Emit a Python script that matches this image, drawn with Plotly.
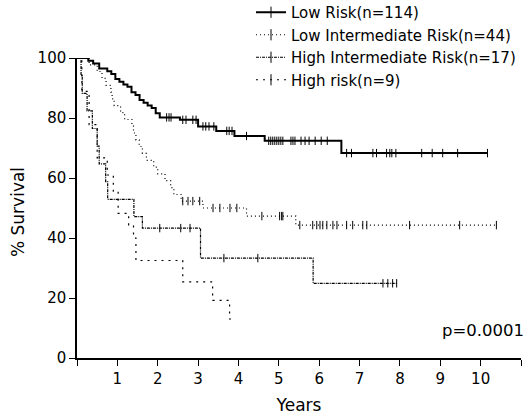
import numpy as np
import plotly.graph_objects as go

# ---- data ----
low_t = [0, 0.28, 0.4, 0.55, 0.75, 0.85, 0.95, 1.05, 1.15, 1.25, 1.35, 1.45, 1.55, 1.65, 1.75, 1.85, 1.95, 2.05, 2.55, 3.0, 3.45, 3.9, 4.65, 6.55]
low_s = [100, 99.1, 98.2, 96.5, 95.6, 94.7, 93.0, 92.1, 91.2, 90.4, 88.6, 87.7, 86.0, 85.1, 84.2, 83.3, 81.6, 80.2, 79.4, 77.2, 75.7, 74.0, 72.4, 68.3]
low_end = 10.17
low_cens = [2.22, 2.28, 2.33, 2.62, 2.7, 2.87, 2.95, 3.12, 3.19, 3.27, 3.39, 3.71, 3.77, 3.84, 4.2,
            4.75, 4.8, 4.85, 4.9, 4.95, 5.0, 5.05, 5.1, 5.3, 5.35, 5.4, 5.55, 5.65, 5.75, 5.9, 6.05, 6.2,
            6.68, 6.8, 7.33, 7.42, 7.67, 7.75, 7.8, 7.9, 8.54, 8.8, 9.06, 9.43, 10.17]

lowint_t = [0, 0.3, 0.5, 0.62, 0.72, 0.84, 0.87, 0.92, 1.08, 1.18, 1.36, 1.4, 1.46, 1.54, 1.62, 1.72, 1.9, 2.0, 2.18, 2.32, 2.4, 2.58, 3.12, 4.2, 5.42]
lowint_s = [100, 97.7, 95.5, 93.2, 90.9, 88.6, 86.4, 84.1, 81.8, 79.5, 77.3, 75.0, 72.7, 70.5, 68.2, 65.9, 63.6, 61.4, 59.1, 56.8, 54.5, 52.3, 50.0, 47.3, 44.3]
lowint_end = 10.39
lowint_cens = [2.62, 2.75, 2.87, 3.04, 3.37, 3.54, 3.79, 3.96, 4.58, 5.02, 5.07, 5.1, 5.52, 5.84, 5.94,
               6.02, 6.09, 6.19, 6.34, 6.44, 6.68, 6.83, 7.08, 7.18, 8.24, 9.48, 10.39]

highint_t = [0, 0.1, 0.13, 0.25, 0.38, 0.5, 0.55, 0.71, 0.76, 1.41, 1.62, 3.06, 5.85]
highint_s = [100, 94.1, 88.2, 82.4, 76.5, 70.6, 64.7, 58.8, 52.9, 47.1, 43.3, 33.3, 24.9]
highint_end = 7.92
highint_cens = [2.05, 2.57, 2.8, 3.64, 4.48, 7.58, 7.7, 7.82, 7.92]

high_t = [0, 0.12, 0.3, 0.5, 0.75, 0.9, 1.02, 1.28, 1.4, 1.46, 2.62, 3.36, 3.78]
high_s = [100, 88.9, 77.8, 66.7, 61.0, 55.6, 48.2, 44.4, 40.0, 32.5, 25.4, 19.2, 13.0]
high_end = 3.82
high_cens = []

names = ["Low Risk(n=114)", "Low Intermediate Risk(n=44)",
         "High Intermediate Risk(n=17)", "High risk(n=9)"]
x_ticks = list(range(0, 12))
x_ticktext = [""] + [str(i) for i in range(1, 11)] + [""]
y_ticks = [0, 20, 40, 60, 80, 100]

series = [
    (low_t, low_s, low_end, low_cens, dict(width=2, dash="solid")),
    (lowint_t, lowint_s, lowint_end, lowint_cens, dict(width=1.2, dash="1px,3px")),
    (highint_t, highint_s, highint_end, highint_cens, dict(width=1.2, dash="3px,1px,1px,1px")),
    (high_t, high_s, high_end, high_cens, dict(width=1.2, dash="2px,5px")),
]

fig = go.Figure()
for name, (t, s, end, cens, lst) in zip(names, series):
    xs = list(t) + [end]
    ys = list(s) + [s[-1]]
    fig.add_trace(go.Scatter(x=xs, y=ys, mode="lines", line=dict(color="black", shape="hv", **lst),
                             showlegend=False, cliponaxis=False, hoverinfo="skip"))
    if cens:
        idx = np.searchsorted(np.array(t), np.array(cens), side="right") - 1
        cy = [s[i] for i in idx]
        fig.add_trace(go.Scatter(x=cens, y=cy, mode="markers",
                                 marker=dict(symbol="line-ns-open", size=6, color="black",
                                             line=dict(color="black", width=1)),
                                 showlegend=False, cliponaxis=False, hoverinfo="skip"))
    # legend entry
    fig.add_trace(go.Scatter(x=[None], y=[None], mode="lines+markers", name=name,
                             line=dict(color="black", **lst),
                             marker=dict(symbol="line-ns-open", size=8, color="black",
                                         line=dict(color="black", width=1))))

fig.add_annotation(text="p=0.0001", xref="paper", yref="paper", x=(440 - 77) / 444, y=(358 - 330) / 300,
                   xanchor="left", yanchor="middle", showarrow=False, font=dict(size=16.5))
# y-axis title
fig.add_annotation(text="% Survival", xref="paper", yref="paper", x=(18 - 77) / 444, y=(358 - 212) / 300,
                   xanchor="center", yanchor="middle", textangle=-90, showarrow=False, font=dict(size=17))

fig.update_layout(
    width=529, height=416,
    margin=dict(l=77, r=8, t=58, b=58, autoexpand=False),
    plot_bgcolor="white", paper_bgcolor="white",
    font=dict(family="DejaVu Sans", size=15, color="black"),
    legend=dict(x=(251 - 77) / 444, y=1 + 62 / 300,
                xanchor="left", yanchor="top",
                bgcolor="rgba(0,0,0,0)", font=dict(size=15), tracegroupgap=0),
    xaxis=dict(range=[0, 11], tickvals=x_ticks, ticktext=x_ticktext, ticks="outside", ticklen=6,
               tickwidth=1, tickcolor="black", showline=True, linewidth=1.5, linecolor="black",
               showgrid=False, zeroline=False,
               title=dict(text="Years", font=dict(size=17), standoff=12)),
    yaxis=dict(range=[0, 100], tickvals=y_ticks, ticks="outside", ticklen=6, tickwidth=1,
               tickcolor="black", showline=True, linewidth=1.5, linecolor="black",
               showgrid=False, zeroline=False),
)

fig.write_html("out.html", config={"displayModeBar": False},
               post_script="document.body.style.margin='0';")
